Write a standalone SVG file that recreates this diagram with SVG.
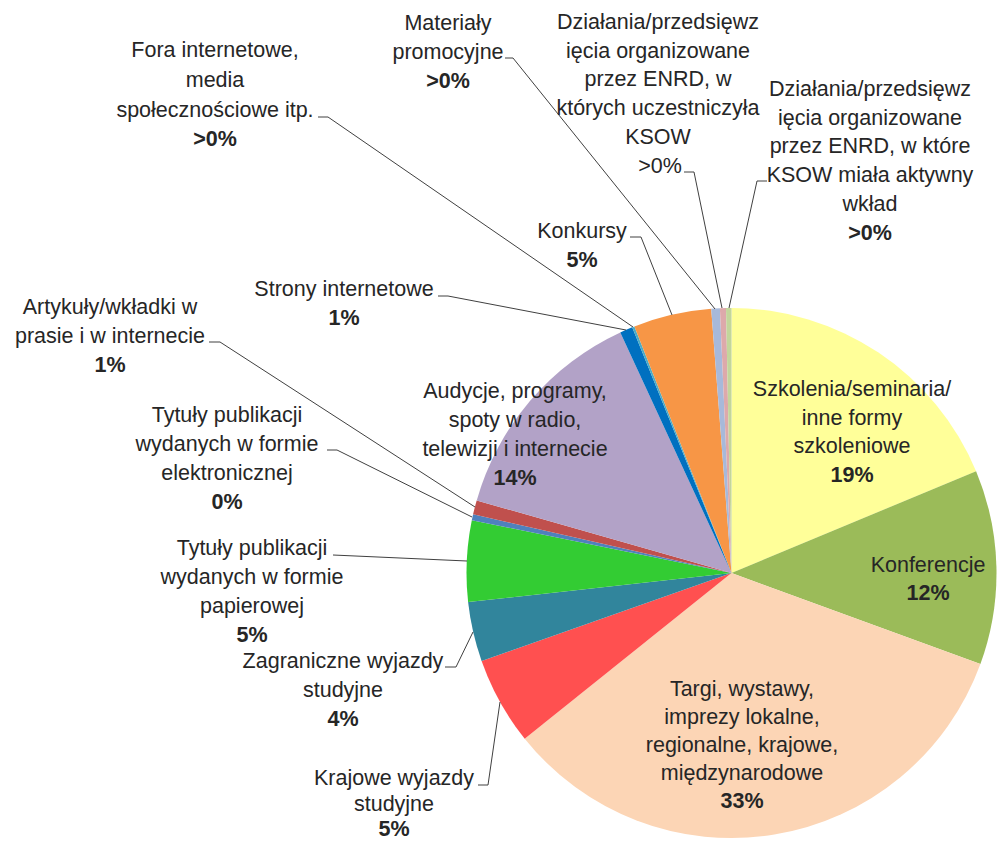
<svg xmlns="http://www.w3.org/2000/svg" width="997" height="843" viewBox="0 0 997 843">
<style>
text{font-family:"Liberation Sans",Arial,sans-serif;font-size:21.5px;fill:#262626;text-anchor:middle}
.b{font-weight:bold}
.ld{fill:none;stroke:#404040;stroke-width:1}
</style>
<rect width="997" height="843" fill="#ffffff"/>
<g id="pie">
<path id="s-szkolenia" d="M731.5 573 L731.5 308 A265 265 0 0 1 976.1 471.2 Z" fill="#FFFF99"/>
<path id="s-konferencje" d="M731.5 573 L976.1 471.2 A265 265 0 0 1 980.4 664.1 Z" fill="#9BBB59"/>
<path id="s-targi" d="M731.5 573 L980.4 664.1 A265 265 0 0 1 524.7 738.7 Z" fill="#FCD5B5"/>
<path id="s-krajowe" d="M731.5 573 L524.7 738.7 A265 265 0 0 1 481.6 661.0 Z" fill="#FF5050"/>
<path id="s-zagraniczne" d="M731.5 573 L481.6 661.0 A265 265 0 0 1 468.1 602.1 Z" fill="#31859C"/>
<path id="s-papierowe" d="M731.5 573 L468.1 602.1 A265 265 0 0 1 471.8 520.2 Z" fill="#33CC33"/>
<path id="s-elektroniczne" d="M731.5 573 L471.8 520.2 A265 265 0 0 1 473.1 514.3 Z" fill="#4F81BD"/>
<path id="s-artykuly" d="M731.5 573 L473.1 514.3 A265 265 0 0 1 476.7 500.4 Z" fill="#C0504D"/>
<path id="s-audycje" d="M731.5 573 L476.7 500.4 A265 265 0 0 1 620.3 332.4 Z" fill="#B2A2C7"/>
<path id="s-strony" d="M731.5 573 L620.3 332.4 A265 265 0 0 1 632.2 327.3 Z" fill="#0070C0"/>
<path id="s-fora" d="M731.5 573 L632.2 327.3 A265 265 0 0 1 634.4 326.4 Z" fill="#4BACC6"/>
<path id="s-konkursy" d="M731.5 573 L634.4 326.4 A265 265 0 0 1 711.2 308.8 Z" fill="#F79646"/>
<path id="s-materialy" d="M731.5 573 L711.2 308.8 A265 265 0 0 1 719.9 308.3 Z" fill="#A7B9DA"/>
<path id="s-enrd1" d="M731.5 573 L719.9 308.3 A265 265 0 0 1 726.0 308.1 Z" fill="#DDA9AB"/>
<path id="s-enrd2" d="M731.5 573 L726.0 308.1 A265 265 0 0 1 731.5 308 Z" fill="#C3D69B"/>
</g>
<g id="connectors">
<polyline class="ld" points="505,58 513,58 715,309"/>
<polyline class="ld" points="684,172 694,172 722,308"/>
<polyline class="ld" points="767,181 757,181 729,308"/>
<polyline class="ld" points="630,237 641,237 672,315"/>
<polyline class="ld" points="318,117 328,117 633,327"/>
<polyline class="ld" points="438,296 448,296 626,330"/>
<polyline class="ld" points="209,342 220,342 475,507"/>
<polyline class="ld" points="327,450 337,450 472,517"/>
<polyline class="ld" points="333,555 467,561"/>
<polyline class="ld" points="445,667 456,667 473,632"/>
<polyline class="ld" points="478,785 488,785 500,702"/>
</g>
<g id="label-materialy"><text x="448" y="30">Materiały</text><text x="448" y="59">promocyjne</text><text class="b" x="448" y="88">&gt;0%</text></g>
<g id="label-fora"><text x="215" y="57">Fora internetowe,</text><text x="215" y="87">media</text><text x="215" y="117">społecznościowe itp.</text><text class="b" x="215" y="146">&gt;0%</text></g>
<g id="label-enrd1"><text x="658" y="29">Działania/przedsięwz</text><text x="658" y="58">ięcia organizowane</text><text x="658" y="86">przez ENRD, w</text><text x="658" y="115">których uczestniczyła</text><text x="658" y="144">KSOW</text><text x="660" y="173">&gt;0%</text></g>
<g id="label-enrd2"><text x="870" y="96">Działania/przedsięwz</text><text x="870" y="125">ięcia organizowane</text><text x="870" y="153">przez ENRD, w które</text><text x="870" y="182">KSOW miała aktywny</text><text x="870" y="211">wkład</text><text class="b" x="870" y="240">&gt;0%</text></g>
<g id="label-konkursy"><text x="582" y="238">Konkursy</text><text class="b" x="582" y="267">5%</text></g>
<g id="label-strony"><text x="344" y="296">Strony internetowe</text><text class="b" x="344" y="325">1%</text></g>
<g id="label-artykuly"><text x="110" y="314">Artykuły/wkładki w</text><text x="110" y="343">prasie i w internecie</text><text class="b" x="110" y="372">1%</text></g>
<g id="label-elektroniczne"><text x="227" y="422">Tytuły publikacji</text><text x="227" y="451">wydanych w formie</text><text x="227" y="480">elektronicznej</text><text class="b" x="227" y="509">0%</text></g>
<g id="label-audycje"><text x="515" y="398">Audycje, programy,</text><text x="515" y="427">spoty w radio,</text><text x="515" y="456">telewizji i internecie</text><text class="b" x="515" y="485">14%</text></g>
<g id="label-szkolenia"><text x="852" y="396">Szkolenia/seminaria/</text><text x="852" y="425">inne formy</text><text x="852" y="453">szkoleniowe</text><text class="b" x="852" y="482">19%</text></g>
<g id="label-konferencje"><text x="928" y="572">Konferencje</text><text class="b" x="928" y="600">12%</text></g>
<g id="label-papierowe"><text x="252" y="555">Tytuły publikacji</text><text x="252" y="584">wydanych w formie</text><text x="252" y="613">papierowej</text><text class="b" x="252" y="642">5%</text></g>
<g id="label-zagraniczne"><text x="343" y="668">Zagraniczne wyjazdy</text><text x="343" y="697">studyjne</text><text class="b" x="343" y="726">4%</text></g>
<g id="label-targi"><text x="742" y="696">Targi, wystawy,</text><text x="742" y="724">imprezy lokalne,</text><text x="742" y="752">regionalne, krajowe,</text><text x="742" y="780">międzynarodowe</text><text class="b" x="742" y="808">33%</text></g>
<g id="label-krajowe"><text x="394" y="785">Krajowe wyjazdy</text><text x="394" y="811">studyjne</text><text class="b" x="394" y="836">5%</text></g>
</svg>
